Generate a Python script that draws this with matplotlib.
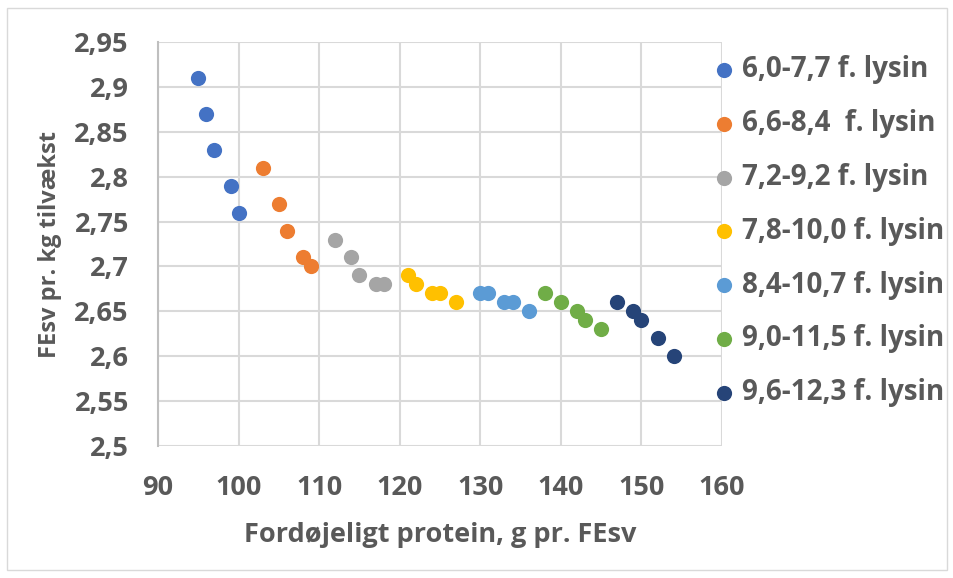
import matplotlib.pyplot as plt
from matplotlib.patches import Rectangle

plt.rcParams['font.family'] = ['Open Sans', 'DejaVu Sans']

labels = ['6,0-7,7 f. lysin', '6,6-8,4  f. lysin', '7,2-9,2 f. lysin', '7,8-10,0 f. lysin',
          '8,4-10,7 f. lysin', '9,0-11,5 f. lysin', '9,6-12,3 f. lysin']
colors = ['#4472C4', '#ED7D31', '#A5A5A5', '#FFC000', '#5B9BD5', '#70AD47', '#264478']

protein = [
    [95, 96, 97, 99, 100],
    [103, 105, 106, 108, 109],
    [112, 114, 115, 117, 118],
    [121, 122, 124, 125, 127],
    [130, 131, 133, 134, 136],
    [138, 140, 142, 143, 145],
    [147, 149, 150, 152, 154],
]
fesv = [
    [2.91, 2.87, 2.83, 2.79, 2.76],
    [2.81, 2.77, 2.74, 2.71, 2.70],
    [2.73, 2.71, 2.69, 2.68, 2.68],
    [2.69, 2.68, 2.67, 2.67, 2.66],
    [2.67, 2.67, 2.66, 2.66, 2.65],
    [2.67, 2.66, 2.65, 2.64, 2.63],
    [2.66, 2.65, 2.64, 2.62, 2.60],
]

txt = '#595959'
fig = plt.figure(figsize=(9.54, 5.78), dpi=100)
ax = fig.add_axes([158 / 954, 1 - 446 / 578, (722 - 158) / 954, (446 - 42) / 578])

for x, y, c, lab in zip(protein, fesv, colors, labels):
    ax.scatter(x, y, s=120, color=c, label=lab, zorder=3, linewidths=0)

ax.set_xlim(90, 160)
ax.set_ylim(2.5, 2.95)
ax.set_xticks(range(90, 161, 10))
yt = [2.5 + 0.05 * i for i in range(10)]
ax.set_yticks(yt)
ax.set_yticklabels([f'{v:.2f}'.rstrip('0').replace('.', ',') for v in yt])
ax.grid(True, color='#D9D9D9', linewidth=1.5)
ax.set_axisbelow(True)
for s in ['top', 'right', 'bottom']:
    ax.spines[s].set_visible(False)
ax.spines['left'].set_color('#BFBFBF')
ax.spines['left'].set_linewidth(1.5)
ax.tick_params(length=0, labelsize=19.5, labelcolor=txt, pad=21)
for t in ax.get_xticklabels() + ax.get_yticklabels():
    t.set_fontweight('bold')

ax.set_xlabel('Fordøjeligt protein, g pr. FEsv', fontsize=19.5, fontweight='bold', color=txt, labelpad=15)
ax.set_ylabel('FEsv pr. kg tilvækst', fontsize=17, fontweight='bold', color=txt, labelpad=9)

leg = ax.legend(loc='upper left', bbox_to_anchor=(0.9585, 0.995), frameon=False,
                fontsize=20, handletextpad=0.1, labelspacing=0.895, handlelength=1.05,
                borderaxespad=0)
for t in leg.get_texts():
    t.set_color(txt)
    t.set_fontweight('bold')

fig.patches.append(Rectangle((7 / 954, 8 / 578), 940 / 954, 562 / 578, transform=fig.transFigure,
                             fill=False, edgecolor='#D9D9D9', linewidth=1))

fig.savefig('out.png', dpi=100)
